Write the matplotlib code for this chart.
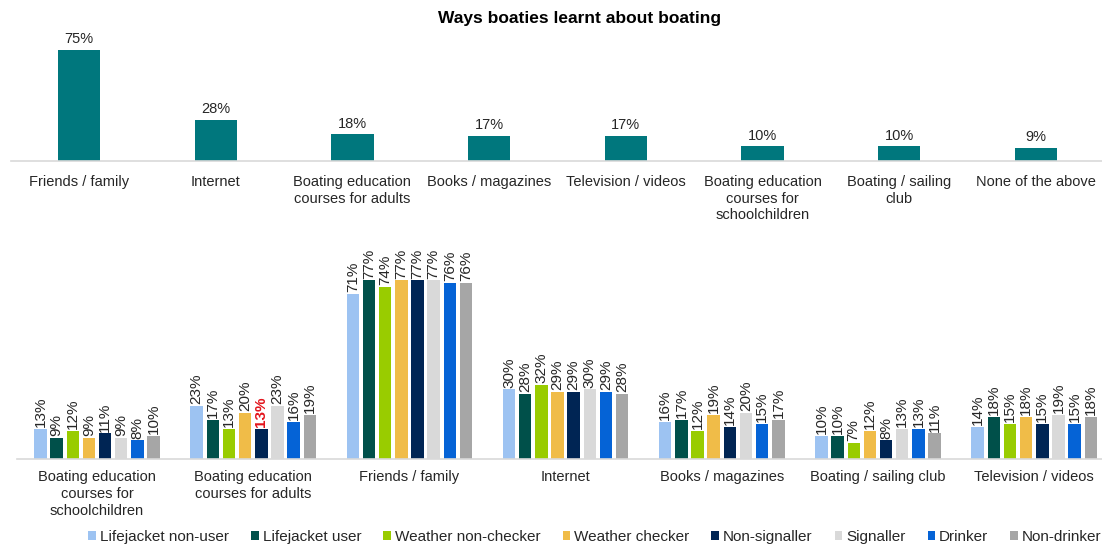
import matplotlib
matplotlib.use("Agg")
import matplotlib.pyplot as plt
import numpy as np

plt.rcParams['font.family'] = ['Liberation Sans', 'DejaVu Sans']

# ---- Data ----
title = "Ways boaties learnt about boating"
top_categories = ["Friends / family", "Internet", "Boating education\ncourses for adults",
                  "Books / magazines", "Television / videos",
                  "Boating education\ncourses for\nschoolchildren", "Boating / sailing\nclub",
                  "None of the above"]
top_values = [75, 28, 18, 17, 17, 10, 10, 9]

bottom_categories = ["Boating education\ncourses for\nschoolchildren",
                     "Boating education\ncourses for adults", "Friends / family", "Internet",
                     "Books / magazines", "Boating / sailing club", "Television / videos"]
series_names = ["Lifejacket non-user", "Lifejacket user", "Weather non-checker",
                "Weather checker", "Non-signaller", "Signaller", "Drinker", "Non-drinker"]
lifejacket_non_user = [13, 23, 71, 30, 16, 10, 14]
lifejacket_user = [9, 17, 77, 28, 17, 10, 18]
weather_non_checker = [12, 13, 74, 32, 12, 7, 15]
weather_checker = [9, 20, 77, 29, 19, 12, 18]
non_signaller = [11, 13, 77, 29, 14, 8, 15]
signaller = [9, 23, 77, 30, 20, 13, 19]
drinker = [8, 16, 76, 29, 15, 13, 15]
non_drinker = [10, 19, 76, 28, 17, 11, 18]
series_values = [lifejacket_non_user, lifejacket_user, weather_non_checker, weather_checker,
                 non_signaller, signaller, drinker, non_drinker]
# highlighted label (series index, category index)
highlight = [(4, 1)]

colors = ["#9DC3F2", "#00504A", "#99CC00", "#F0BC48", "#002554", "#D9D9D9", "#0563D6", "#A6A6A6"]
top_color = "#00777D"
text_color = "#262626"

W, H = 1102, 546
fig = plt.figure(figsize=(W / 100, H / 100), dpi=100)

# ---- Top chart ----
pitch_t = 136.7
x0_t = 79
xmin_t = -x0_t / pitch_t
xmax_t = xmin_t + W / pitch_t
axt = fig.add_axes([0, 1 - 161 / H, 1, 148 / H])
xt = np.arange(len(top_categories))
axt.bar(xt, top_values, width=0.31, color=top_color)
axt.set_xlim(xmin_t, xmax_t)
axt.set_ylim(0, 100)
axt.plot([-0.5, len(top_categories) - 0.5], [0, 0], color="#D9D9D9", lw=1.2, clip_on=False)
for x, v in zip(xt, top_values):
    axt.text(x, v + 2.5, f"{v}%", ha="center", va="bottom", fontsize=10.5, color=text_color)
for x, c in zip(xt, top_categories):
    axt.annotate(c, (x, 0), xytext=(0, -10), textcoords="offset points",
                 ha="center", va="top", fontsize=10.5, color=text_color, linespacing=1.25)
axt.axis("off")

fig.text(580 / W, 1 - 18 / H, title, ha="center", va="center", fontsize=12.5,
         fontweight="bold", color="black")

# ---- Bottom chart ----
pitch_b = 156.2
x0_b = 97
xmin_b = -x0_b / pitch_b
xmax_b = xmin_b + W / pitch_b
axb = fig.add_axes([0, 1 - 459 / H, 1, 232 / H])
xb = np.arange(len(bottom_categories))
n = len(series_names)
bw = 0.08
bp = 0.1035
for i, (name, vals, col) in enumerate(zip(series_names, series_values, colors)):
    pos = xb + (i - (n - 1) / 2) * bp
    axb.bar(pos, vals, width=bw, color=col, label=name)
    for j, (p, v) in enumerate(zip(pos, vals)):
        hl = (i, j) in highlight
        axb.text(p, v + 0.8, f"{v}%", ha="center", va="bottom", rotation=90, fontsize=11,
                 color="#E3141C" if hl else text_color,
                 fontweight="bold" if hl else "normal")
axb.set_xlim(xmin_b, xmax_b)
axb.set_ylim(0, 100)
axb.plot([-0.51, len(bottom_categories) - 0.45], [0, 0], color="#D9D9D9", lw=1.2, clip_on=False)
for x, c in zip(xb, bottom_categories):
    axb.annotate(c, (x, 0), xytext=(0, -8), textcoords="offset points",
                 ha="center", va="top", fontsize=10.5, color=text_color, linespacing=1.25)
axb.axis("off")

handles, labels = axb.get_legend_handles_labels()
leg = fig.legend(handles, labels, loc="center", bbox_to_anchor=(595 / W, 1 - 537 / H),
                 ncol=8, frameon=False, fontsize=11, handlelength=0.5, handleheight=0.5,
                 handletextpad=0.25, columnspacing=1.45, labelcolor=text_color)

fig.savefig("out.png", dpi=100)
